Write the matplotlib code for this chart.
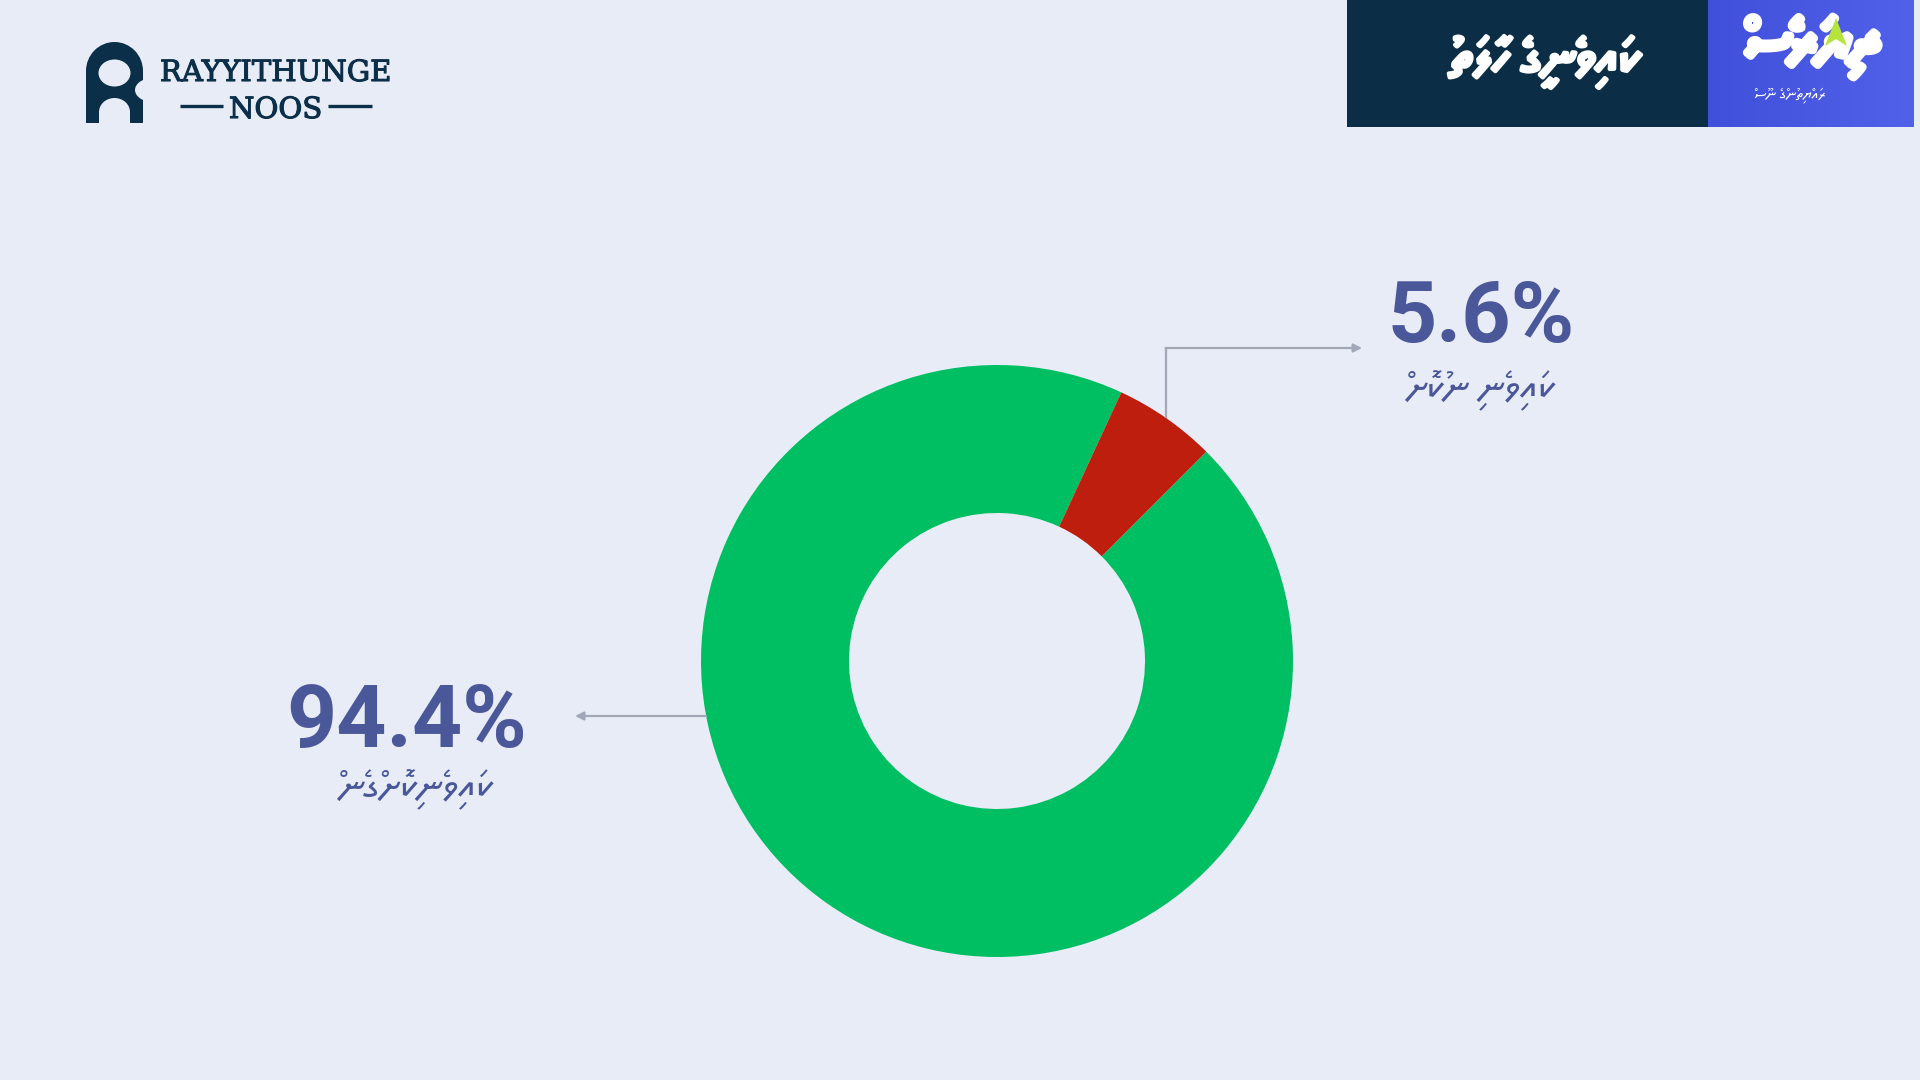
import matplotlib
matplotlib.use("Agg")
import numpy as np
import matplotlib.pyplot as plt
import matplotlib.patheffects as pe
from matplotlib.colors import LinearSegmentedColormap
from matplotlib.patches import Rectangle, Ellipse, Polygon

# data
labels = ["ކައިވެނިކޮށްގެން", "ކައިވެނި ނުކޮށް"]
shares = [94.4, 5.6]
share_text = ["94.4%", "5.6%"]
colors = ["#00BF63", "#BE1E0D"]

title = "ކައިވެނީގެ ހާލަތު"
brand = "ދިޔަރެސް"
brand_small = "ރައްޔިތުންގެ ނޫސް"

BG = "#E8ECF6"
NAVY = "#0B2F48"
NUM = "#4A5899"
LINE = "#A3A8B8"
THAANA = ["Noto Sans Thaana", "DejaVu Sans"]
H = 1080


def rtl(s):
    # no bidi in matplotlib: feed the thaana string in visual order
    return s[::-1]


def Y(py):
    return H - py


fig = plt.figure(figsize=(19.2, 10.8), dpi=100, facecolor=BG)
ax = fig.add_axes([0, 0, 1, 1])
ax.set_facecolor(BG)

# donut
ax.pie(shares, colors=colors, startangle=45 + 3.6 * shares[1],
       center=(997, Y(661)), radius=296,
       wedgeprops=dict(width=148, linewidth=0))
ax.set_xlim(0, 1920)
ax.set_ylim(0, H)
ax.set_aspect("auto")
ax.axis("off")

# callouts
ax.plot([1166, 1166], [Y(418), Y(348)], color=LINE, lw=1.6, solid_capstyle="butt")
ax.annotate("", xy=(1362, Y(348)), xytext=(1165.5, Y(348)),
            arrowprops=dict(arrowstyle="-|>,head_length=0.5,head_width=0.25",
                            color=LINE, lw=1.6, shrinkA=0, shrinkB=0))
ax.annotate("", xy=(575, Y(716)), xytext=(706, Y(716)),
            arrowprops=dict(arrowstyle="-|>,head_length=0.5,head_width=0.25",
                            color=LINE, lw=1.6, shrinkA=0, shrinkB=0))

ax.text(1387, Y(342), share_text[1], fontsize=62, fontweight="bold",
        family="Roboto", color=NUM, ha="left", va="baseline")
ax.text(286, Y(747), share_text[0], fontsize=63, fontweight="bold",
        family="Roboto", color=NUM, ha="left", va="baseline")
ax.text(1480, Y(391), rtl(labels[1]), fontsize=28, family=THAANA,
        color=NUM, ha="center", va="center")
ax.text(415, Y(790), rtl(labels[0]), fontsize=28, family=THAANA,
        color=NUM, ha="center", va="center")

# header boxes
ax.add_patch(Rectangle((1347, Y(127)), 361, 127, color="#0B2E46", lw=0))
grad = LinearSegmentedColormap.from_list("hdr", ["#4150DA", "#5161E9"])
ax.imshow(np.linspace(0, 1, 64).reshape(1, -1), cmap=grad, aspect="auto",
          extent=(1708, 1914, Y(127), Y(0)), interpolation="bilinear", zorder=1)
ax.set_xlim(0, 1920)
ax.set_ylim(0, H)
ax.text(1545, Y(62), rtl(title), fontsize=36, family=THAANA, color="white",
        ha="center", va="center", zorder=3,
        path_effects=[pe.withStroke(linewidth=3, foreground="white")])
ax.text(1812, Y(47), rtl(brand), fontsize=42, family=THAANA, color="white",
        ha="center", va="center", zorder=3,
        path_effects=[pe.withStroke(linewidth=6, foreground="white")])
ax.add_patch(Polygon([(1836, Y(18)), (1825, Y(46)), (1836, Y(39)), (1847, Y(46))],
                     closed=True, color="#B5E53C", lw=0, zorder=4))
ax.text(1790, Y(95), rtl(brand_small), fontsize=11, family=THAANA, color="white",
        ha="center", va="center", zorder=3)

# left logo
ax.add_patch(Ellipse((114.5, Y(71)), 57, 58, color=NAVY, lw=0))
ax.add_patch(Rectangle((86, Y(123)), 57, 52, color=NAVY, lw=0))
ax.add_patch(Ellipse((114.5, Y(73)), 32, 27, color=BG, lw=0))
ax.add_patch(Ellipse((114.5, Y(112)), 31, 28, color=BG, lw=0))
ax.add_patch(Rectangle((99, Y(124)), 31, 13, color=BG, lw=0))
ax.add_patch(Ellipse((153, Y(90)), 36, 24, color=BG, lw=0))

logo_fx = [pe.withStroke(linewidth=0.8, foreground=NAVY)]
ax.text(275.5, Y(81), "RAYYITHUNGE", fontsize=21, family="DejaVu Serif",
        color=NAVY, ha="center", va="baseline", path_effects=logo_fx)
ax.text(275.5, Y(118), "NOOS", fontsize=21, family="DejaVu Serif",
        color=NAVY, ha="center", va="baseline", path_effects=logo_fx)
ax.plot([180, 223], [Y(106), Y(106)], color=NAVY, lw=2.4, solid_capstyle="butt")
ax.plot([328, 372], [Y(106), Y(106)], color=NAVY, lw=2.4, solid_capstyle="butt")

fig.savefig("out.png", dpi=100, facecolor=BG)
